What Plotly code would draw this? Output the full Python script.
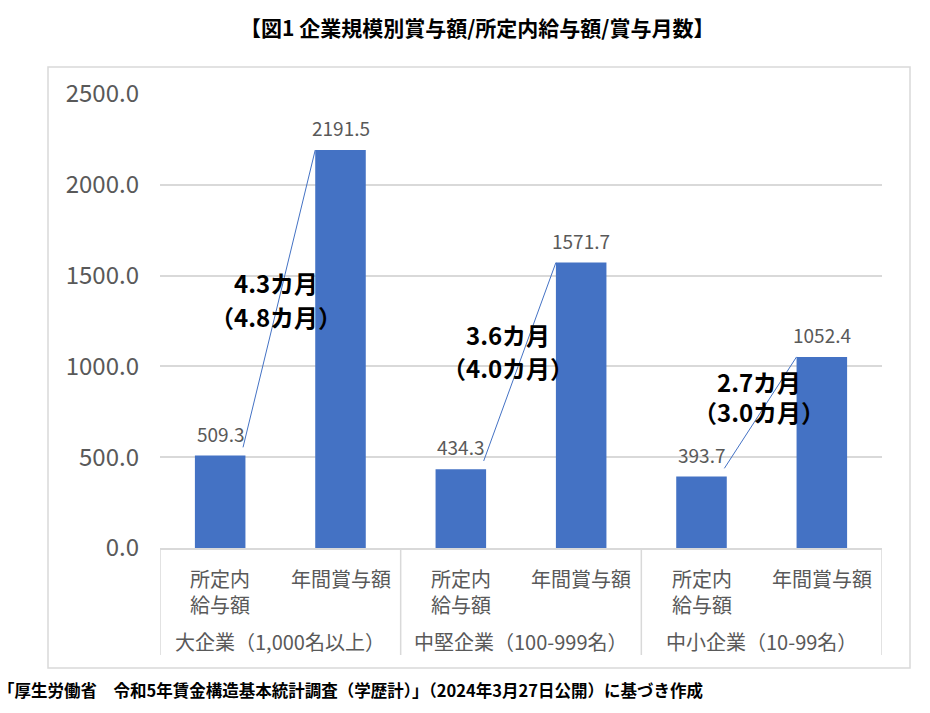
import plotly.graph_objects as go

# data
groups = ["大企業（1,000名以上）", "中堅企業（100-999名）", "中小企業（10-99名）"]
sub_labels = ["所定内<br>給与額", "年間賞与額"]
salary = [509.3, 434.3, 393.7]       # 所定内給与額
bonus = [2191.5, 1571.7, 1052.4]     # 年間賞与額
months = [4.3, 3.6, 2.7]             # 賞与月数
months_prev = [4.8, 4.0, 3.0]        # 括弧内
y_ticks = [0, 500, 1000, 1500, 2000, 2500]

BLUE = "#4472C4"
GRAY = "#595959"
LIGHT = "#D9D9D9"
FONT = "Noto Sans CJK JP"

# page body has an 8px margin, so the figure is a bit smaller and shifted
OFF = 8
W, H = 930 - OFF, 713 - OFF
L, R, T, B = 160, 48, 94, 165   # plot area in page pixels of the reference
PW, PH = 882 - L, 548 - T


def px_x(p):
    return (p - L) / PW


def px_y(p):
    return (548 - p) / PH


bar_x = []
bar_y = []
for g in range(len(groups)):
    bar_x += [2 * g, 2 * g + 1]
    bar_y += [salary[g], bonus[g]]

fig = go.Figure()

fig.add_trace(go.Bar(x=bar_x, y=bar_y, width=0.42, marker=dict(color=BLUE, line=dict(width=0)),
                     showlegend=False, hoverinfo="skip"))

# thin connector lines salary -> bonus
for g in range(len(groups)):
    fig.add_trace(go.Scatter(x=[2 * g + 0.19, 2 * g + 0.79], y=[salary[g] + 45, bonus[g]],
                             mode="lines", line=dict(color=BLUE, width=1),
                             showlegend=False, hoverinfo="skip"))

ann = []
# value labels above bars
for x, v in zip(bar_x, bar_y):
    ann.append(dict(x=x, y=v, xref="x", yref="y", text=f"{v:.1f}", showarrow=False,
                    yanchor="bottom", yshift=7, font=dict(size=19, color=GRAY, family=FONT)))

# month labels
month_pos = [(0.46, 1460, 1273), (2.39, 1174, 992), (4.48, 915, 749)]
for g in range(len(groups)):
    mx, y1, y2 = month_pos[g]
    ann.append(dict(x=mx, y=y1, xref="x", yref="y", text=f"<b>{months[g]:.1f}カ月</b>",
                    showarrow=False, xanchor="center", yanchor="middle",
                    font=dict(size=24, color="black", family=FONT)))
    ann.append(dict(x=mx, y=y2, xref="x", yref="y", text=f"<b>（{months_prev[g]:.1f}カ月）</b>",
                    showarrow=False, xanchor="center", yanchor="middle",
                    font=dict(size=24, color="black", family=FONT)))

# category labels
for g in range(len(groups)):
    for k in range(2):
        ann.append(dict(x=2 * g + k, y=px_y(562), xref="x", yref="paper", text=sub_labels[k],
                        showarrow=False, xanchor="center", yanchor="top",
                        font=dict(size=20, color=GRAY, family=FONT)))
    ann.append(dict(x=2 * g + 0.5, y=px_y(641), xref="x", yref="paper", text=groups[g],
                    showarrow=False, xanchor="center", yanchor="middle",
                    font=dict(size=20, color=GRAY, family=FONT)))

# title and source
ann.append(dict(x=px_x(477), y=px_y(27), xref="paper", yref="paper",
                text="<b>【図1 企業規模別賞与額/所定内給与額/賞与月数】</b>", showarrow=False,
                xanchor="center", yanchor="middle",
                font=dict(size=21, color="black", family=FONT)))
ann.append(dict(x=px_x(-4), y=px_y(690), xref="paper", yref="paper", xanchor="left",
                yanchor="middle",
                text="<b>「厚生労働省　令和5年賃金構造基本統計調査（学歴計）」（2024年3月27日公開）に基づき作成</b>",
                showarrow=False, font=dict(size=16.5, color="black", family=FONT)))

shapes = []
# group dividers below the axis
for xd in [-0.5, 1.5, 3.5, 5.5]:
    shapes.append(dict(type="line", xref="x", yref="paper", x0=xd, x1=xd, y0=0, y1=px_y(655),
                       line=dict(color=LIGHT, width=1.5)))
# outer border
shapes.append(dict(type="rect", xref="paper", yref="paper", x0=px_x(48), x1=px_x(910),
                   y0=px_y(668), y1=px_y(67), line=dict(color=LIGHT, width=1.5)))

fig.update_layout(
    width=W, height=H,
    margin=dict(l=L - OFF, r=R, t=T - OFF, b=B),
    paper_bgcolor="white", plot_bgcolor="white",
    font=dict(family=FONT, color=GRAY),
    xaxis=dict(range=[-0.5, 5.5], showticklabels=False, showgrid=False, zeroline=False,
               showline=True, linecolor=LIGHT, linewidth=1.5),
    yaxis=dict(range=[0, 2500], tickvals=y_ticks, tickformat=".1f", showgrid=True,
               gridcolor=LIGHT, gridwidth=1.5, zeroline=False, showline=False,
               ticklabelstandoff=20, tickfont=dict(size=24, color=GRAY, family=FONT)),
    annotations=ann,
    shapes=shapes,
)

fig.write_html("out.html")
